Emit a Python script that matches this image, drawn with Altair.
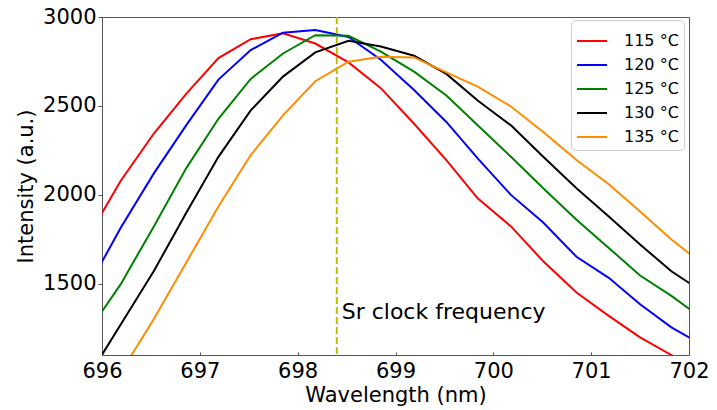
import altair as alt
import pandas as pd

wavelength = [695.86, 696.19, 696.53, 696.86, 697.19, 697.52, 697.85, 698.18, 698.52, 698.85,
              699.19, 699.52, 699.84, 700.18, 700.51, 700.85, 701.18, 701.50, 701.82, 702.16]
series_labels = ["115 °C", "120 °C", "125 °C", "130 °C", "135 °C"]
series_colors = ["#ff0000", "#0000ff", "#008000", "#000000", "#ff8c00"]
i115 = [1765, 2078, 2345, 2568, 2769, 2875, 2909, 2851, 2745, 2600, 2400, 2195, 1981, 1823, 1627, 1451, 1320, 1199, 1100, 990]
i120 = [1484, 1814, 2121, 2391, 2648, 2814, 2912, 2927, 2888, 2760, 2590, 2410, 2205, 2000, 1845, 1652, 1534, 1385, 1255, 1150]
i125 = [1233, 1497, 1823, 2149, 2428, 2652, 2795, 2898, 2894, 2805, 2693, 2559, 2391, 2214, 2037, 1860, 1702, 1547, 1432, 1295]
i130 = [977, 1270, 1572, 1898, 2214, 2475, 2665, 2801, 2866, 2834, 2782, 2680, 2531, 2391, 2214, 2037, 1879, 1721, 1571, 1447]
i135 = [700, 1000, 1302, 1618, 1935, 2224, 2447, 2639, 2749, 2777, 2773, 2689, 2609, 2497, 2354, 2196, 2060, 1907, 1749, 1604]
x_ticks = [696, 697, 698, 699, 700, 701, 702]
y_ticks = [1500, 2000, 2500, 3000]
sr_clock = [698.4]
annotation = ["Sr clock frequency"]
annotation_pos = [698.45, 1341]

rows = []
for lab, vals in zip(series_labels, [i115, i120, i125, i130, i135]):
    for w, v in zip(wavelength, vals):
        rows.append({"wl": w, "I": v, "T": lab})
df = pd.DataFrame(rows)

FONT = "DejaVu Sans"
xscale = alt.Scale(domain=[696, 702], nice=False, zero=False)
yscale = alt.Scale(domain=[1100, 3000], nice=False, zero=False)

lines = alt.Chart(df).mark_line(clip=True, strokeWidth=2).encode(
    x=alt.X("wl:Q", scale=xscale,
            axis=alt.Axis(title="Wavelength (nm)", values=x_ticks, format="d", tickSize=0,
                          labelPadding=5, titlePadding=3, orient="bottom", labelFlush=False)),
    y=alt.Y("I:Q", scale=yscale,
            axis=alt.Axis(title="Intensity (a.u.)", values=y_ticks, format="d", tickSize=4,
                          labelPadding=2, titlePadding=6, labelFlush=False)),
    color=alt.Color("T:N", scale=alt.Scale(domain=series_labels, range=series_colors),
                    legend=alt.Legend(title=None)),
    order=alt.Order("wl:Q"),
)

vline = alt.Chart(pd.DataFrame({"wl": sr_clock})).mark_rule(
    color="#bfbf00", strokeWidth=2, strokeDash=[7, 3]
).encode(
    x=alt.X("wl:Q", scale=xscale,
            axis=alt.Axis(title=None, values=x_ticks, labels=False, tickSize=3, offset=-3,
                          domain=False, orient="bottom"))
)

text = alt.Chart(pd.DataFrame({"wl": [annotation_pos[0]], "I": [annotation_pos[1]], "t": annotation})).mark_text(
    align="left", baseline="middle", fontSize=22, font=FONT, color="#000000"
).encode(
    x=alt.X("wl:Q", scale=xscale, axis=None),
    y=alt.Y("I:Q", scale=yscale),
    text="t:N",
)

chart = alt.layer(lines, vline, text).resolve_axis(x="independent").properties(
    width=587, height=338,
    autosize=alt.AutoSizeParams(type="none"),
    padding={"left": 94, "top": 9, "right": 20, "bottom": 55},
).configure_view(
    stroke="#555555", strokeWidth=1
).configure_axis(
    labelFont=FONT, titleFont=FONT, labelFontSize=21, titleFontSize=21,
    labelColor="#000000", titleColor="#000000", grid=False, domain=False,
    tickColor="#555555", titleFontWeight="normal"
).configure_legend(
    orient="none", legendX=469, legendY=3,
    fillColor="#ffffff", strokeColor="#cccccc", cornerRadius=4, padding=5,
    labelFont=FONT, labelFontSize=16, labelColor="#000000",
    symbolType="stroke", symbolStrokeWidth=2, symbolSize=900, rowPadding=-6,
    labelOffset=16
)

chart.save("out.html", embed_options={"renderer": "svg", "actions": False})
